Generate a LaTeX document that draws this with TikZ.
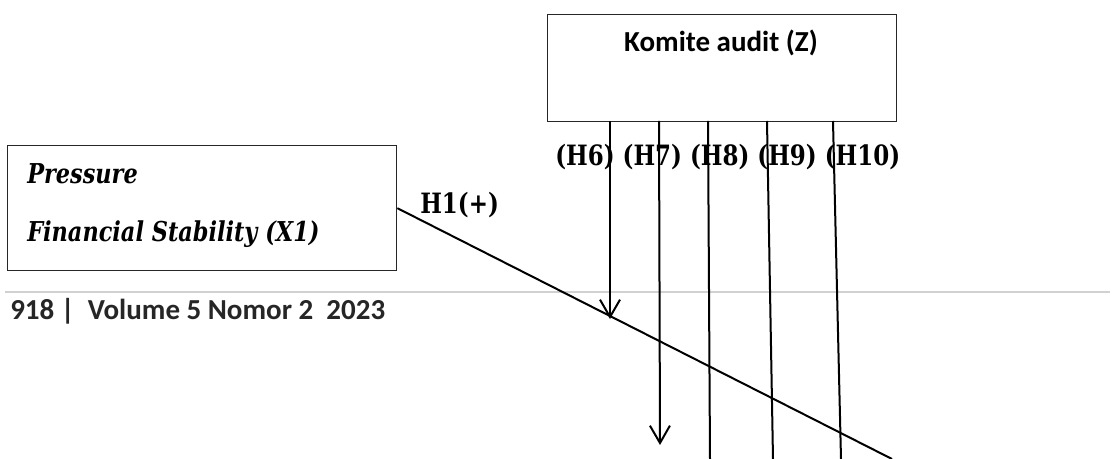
\documentclass[tikz,border=0pt]{standalone}
\usepackage{fontspec}
\setmainfont{Liberation Serif}
\newfontfamily\calibri{Carlito}
\newfontfamily\cambria[FakeStretch=0.82]{DejaVu Serif}
\usetikzlibrary{arrows.meta}

\begin{document}
\begin{tikzpicture}[x=0.75pt, y=-0.75pt,
        kotak/.style={draw=black!85, line width=1pt, fill=white, inner sep=0pt},
        garis/.style={line width=1.5pt},
        panah/.style={garis, -{Straight Barb[length=13pt, width=15pt, line width=1.5pt]}},
        hipo/.style={font=\cambria\fontsize{21pt}{25pt}\selectfont\bfseries, inner sep=0pt},
        var/.style={font=\cambria\fontsize{20.5pt}{25pt}\selectfont\bfseries\itshape, inner sep=0pt, anchor=base west},
        sans/.style={font=\calibri\fontsize{21.75pt}{26pt}\selectfont\bfseries, inner sep=0pt}
    ]
    \useasboundingbox (0,0) rectangle (1115,459);

    % --- Kotak Komite audit (Z) ---
    \node[kotak, minimum width=261.75pt, minimum height=80.25pt, anchor=north west] (komite) at (547,14) {};
    \node[sans, anchor=base] (komitelbl) at (721,52) {Komite audit (Z)};

    % --- Kotak Pressure (X1) ---
    \node[kotak, minimum width=291.75pt, minimum height=93.75pt, anchor=north west] (press) at (7,145) {};
    \node[var] (presslbl) at (27,184) {Pressure};
    \node[var] (finlbl) at (27,242) {Financial Stability (X1)};

    % --- Footer halaman ---
    \draw[black!18, line width=1.2pt] (5,292) -- (1110,292);
    \node[sans, anchor=base west, text=black!85] (footer) at (10,320) {918 |\ \ Volume 5 Nomor 2\ \ 2023};

    % --- Garis H1 ---
    \coordinate (h1end) at (892,459);
    \draw[garis] (press.east) -- (h1end);
    \node[hipo, anchor=base west] (h1lbl) at (420,214) {H1(+)};

    % --- Garis moderasi H6 - H10 ---
    \coordinate (z6) at (610,121);  \coordinate (e6) at (610,319);
    \coordinate (z7) at (659,121);  \coordinate (e7) at (660,445);
    \coordinate (z8) at (708,121);  \coordinate (e8) at (710,459);
    \coordinate (z9) at (767,121);  \coordinate (e9) at (773,459);
    \coordinate (z10) at (833,121); \coordinate (e10) at (841,459);

    \node[hipo, anchor=base west] (hlbl) at (555,166) {(H6) (H7) (H8) (H9) (H10)};

    \draw[panah] (z6) -- (e6);
    \draw[panah] (z7) -- (e7);
    \draw[garis] (z8) -- (e8);
    \draw[garis] (z9) -- (e9);
    \draw[garis] (z10) -- (e10);

\end{tikzpicture}
\end{document}
